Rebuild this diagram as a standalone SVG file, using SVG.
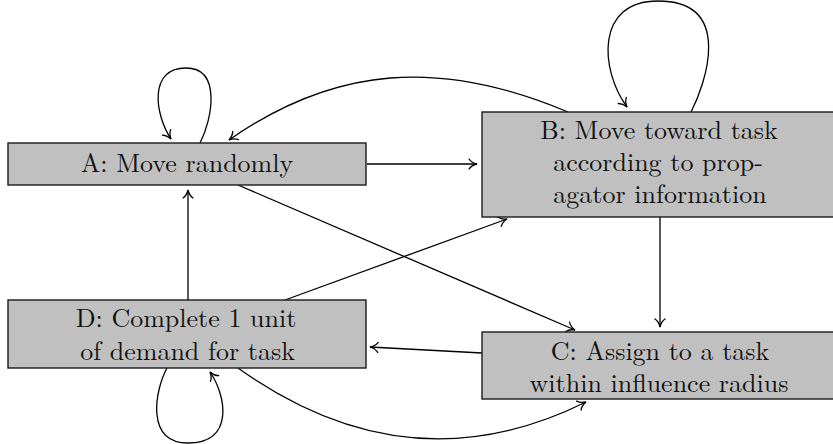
<svg xmlns="http://www.w3.org/2000/svg" width="833" height="444" viewBox="0 0 833 444">
<style>
.box{fill:#c0c0c0;stroke:#1a1a1a;stroke-width:1.4}
.edge{fill:none;stroke:#000;stroke-width:1.3;marker-end:url(#to)}
</style>
<defs>
<marker id="to" markerUnits="userSpaceOnUse" markerWidth="14" markerHeight="14" viewBox="-10 -7 12 14" refX="0" refY="0" orient="auto">
<path d="M-8,-5 C-6,-2 -2,-0.5 0,0 C-2,0.5 -6,2 -8,5" fill="none" stroke="#000" stroke-width="1.3" stroke-linecap="round"/>
</marker>
</defs>
<rect width="833" height="444" fill="#fff"/>
<g id="connectors">
<path class="edge" d="M200,143 C212,120 222,68 186,68 C148,68 155,115 171,139"/>
<path class="edge" d="M568,112 C440,58 335,66 229,140"/>
<path class="edge" d="M367,164 L477,164"/>
<path class="edge" d="M691,112 C705,85 735,1 658,1 C595,1 600,70 627,107"/>
<path class="edge" d="M660,217 L660,327"/>
<path class="edge" d="M238,185 L575,330"/>
<path class="edge" d="M285,300 L507,219"/>
<path class="edge" d="M188,300 L188,190"/>
<path class="edge" d="M482,353 L370,347"/>
<path class="edge" d="M167,368 C155,390 145,443 188,443 C235,443 226,395 210,372"/>
<path class="edge" d="M238,368 C350,448 465,462 586,402"/>
</g>
<g font-family="Latin Modern Roman, Liberation Serif, serif" font-size="26" fill="#111" text-anchor="middle">
<g id="A">
<rect class="box" x="8" y="143" width="358" height="42"/>
<text x="187" y="171.5">A: Move randomly</text>
</g>
<g id="B">
<rect class="box" x="482" y="112" width="354" height="105"/>
<text x="659" y="138.5">B: Move toward task</text>
<text x="658" y="170.5">according to prop-</text>
<text x="660" y="202.5">agator information</text>
</g>
<g id="C">
<rect class="box" x="482" y="332" width="354" height="67"/>
<text x="660" y="359.5">C: Assign to a task</text>
<text x="659" y="391.5">within influence radius</text>
</g>
<g id="D">
<rect class="box" x="8" y="300" width="358" height="68"/>
<text x="186" y="327">D: Complete 1 unit</text>
<text x="187.5" y="359.5">of demand for task</text>
</g>
</g>
</svg>
